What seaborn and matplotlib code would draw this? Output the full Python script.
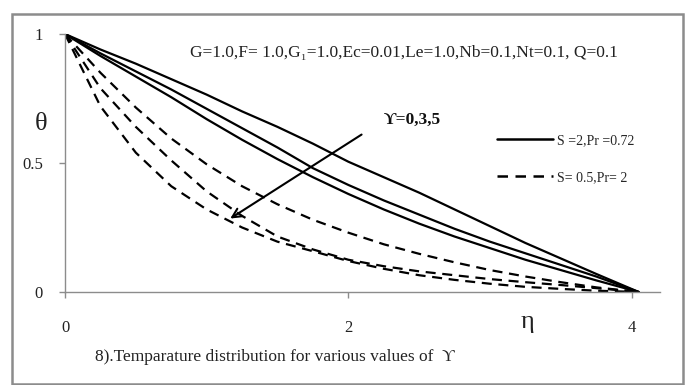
import matplotlib
matplotlib.use("Agg")
import matplotlib.pyplot as plt
from matplotlib.lines import Line2D
from matplotlib.patches import Rectangle
import seaborn as sns
import pandas as pd

# similarity variable
eta = [0.0, 0.25, 0.5, 0.75, 1.0, 1.25, 1.5, 1.75, 2.0, 2.25, 2.5, 2.75, 3.0, 3.25, 3.5, 3.75, 4.05]

# S=2, Pr=0.72 for Upsilon = 0, 3, 5
theta_s2_u0 = [1.0, 0.94, 0.885, 0.825, 0.765, 0.70, 0.64, 0.575, 0.505, 0.445, 0.385, 0.32, 0.255, 0.19, 0.13, 0.07, 0.0]
theta_s2_u3 = [1.0, 0.925, 0.855, 0.785, 0.71, 0.635, 0.56, 0.48, 0.415, 0.355, 0.30, 0.245, 0.195, 0.15, 0.105, 0.06, 0.0]
theta_s2_u5 = [1.0, 0.915, 0.835, 0.755, 0.67, 0.59, 0.515, 0.445, 0.38, 0.32, 0.265, 0.215, 0.17, 0.125, 0.085, 0.045, 0.0]

# S=0.5, Pr=2 for Upsilon = 0, 3, 5
theta_s05_u0 = [1.0, 0.85, 0.715, 0.595, 0.495, 0.41, 0.34, 0.28, 0.23, 0.185, 0.148, 0.115, 0.085, 0.06, 0.038, 0.018, 0.0]
theta_s05_u3 = [1.0, 0.79, 0.64, 0.51, 0.39, 0.295, 0.215, 0.165, 0.125, 0.10, 0.08, 0.065, 0.05, 0.038, 0.027, 0.015, 0.0]
theta_s05_u5 = [1.0, 0.72, 0.54, 0.41, 0.32, 0.25, 0.195, 0.158, 0.12, 0.09, 0.065, 0.047, 0.032, 0.02, 0.012, 0.005, 0.0]

upsilon = [0, 3, 5]
group_labels = ["S =2,Pr =0.72", "S= 0.5,Pr= 2"]

series = {
    (group_labels[0], 0): theta_s2_u0,
    (group_labels[0], 3): theta_s2_u3,
    (group_labels[0], 5): theta_s2_u5,
    (group_labels[1], 0): theta_s05_u0,
    (group_labels[1], 3): theta_s05_u3,
    (group_labels[1], 5): theta_s05_u5,
}

rows = []
for (grp, u), vals in series.items():
    for x, y in zip(eta, vals):
        rows.append({"eta": x, "theta": y, "group": grp, "curve": f"{grp}|{u}"})
df = pd.DataFrame(rows)

sns.set_theme(style="white")
plt.rcParams["font.family"] = ["Liberation Serif", "DejaVu Serif"]

fig = plt.figure(figsize=(6.89, 3.85), dpi=100)
ax = fig.add_axes([65 / 689, 1 - 292 / 385, (660 - 65) / 689, (292 - 34) / 385])

dash_map = {group_labels[0]: "", group_labels[1]: (4.5, 3)}
sns.lineplot(data=df, x="eta", y="theta", units="curve", style="group",
             dashes=dash_map, estimator=None, color="black", linewidth=1.6,
             legend=False, ax=ax, sort=False)

ax.set_xlim(0, 4.2)
ax.set_ylim(0, 1)
ax.set_xticks([0, 2, 4])
ax.set_yticks([0, 0.5, 1])
ax.set_xticklabels(["0", "2", "4"])
ax.set_yticklabels(["0", "0.5", "1"])
ax.set_xlabel("")
ax.set_ylabel("")
for side in ("top", "right"):
    ax.spines[side].set_visible(False)
for side in ("left", "bottom"):
    ax.spines[side].set_color("#8c8c8c")
    ax.spines[side].set_linewidth(1.0)
ax.tick_params(axis="both", direction="out", length=4, width=1.0, color="#8c8c8c",
               labelsize=12, labelcolor="#222222")
ax.tick_params(axis="x", pad=16, bottom=True)
ax.tick_params(axis="y", pad=12, left=True)
ax.set_facecolor("white")

# arrow showing increasing Upsilon
ax.annotate("", xy=(1.15, 0.279), xytext=(2.11, 0.616),
            arrowprops=dict(arrowstyle="->", lw=1.5, color="black", mutation_scale=16))

handles = [Line2D([], [], color="black", lw=1.8),
           Line2D([], [], color="black", lw=1.8, dashes=(4.2, 3))]
fig.legend(handles, group_labels, loc="upper left", bbox_to_anchor=(497 / 689, 1 - 134 / 385),
           frameon=False, fontsize=10, handlelength=4.0, handletextpad=0.3,
           labelspacing=1.75, borderpad=0, borderaxespad=0)

fig.text(190 / 689, 1 - 53 / 385,
         "G=1.0,F= 1.0,G\u2081=1.0,Ec=0.01,Le=1.0,Nb=0.1,Nt=0.1, Q=0.1",
         fontsize=12.5, va="center", ha="left", color="#222222")
fig.text(384 / 689, 1 - 120 / 385, "\u03d2=0,3,5", fontsize=12.5, va="center",
         ha="left", color="#111111", fontweight="bold")
fig.text(41 / 689, 1 - 124 / 385, "\u03b8", fontsize=19, va="center", ha="center", color="#222222")
fig.text(527 / 689, 1 - 322 / 385, "\u03b7", fontsize=19, va="center", ha="center", color="#222222")
fig.text(95 / 689, 1 - 357 / 385, "8).Temparature distribution for various values of  \u03d2",
         fontsize=12.5, va="center", ha="left", color="#222222")

# outer frame
fig.patches.append(Rectangle((12 / 689, 1 - 384 / 385), (683 - 12) / 689, (384 - 14) / 385,
                             transform=fig.transFigure, fill=False, edgecolor="#8c8c8c",
                             linewidth=1.8))

fig.savefig("out.png", dpi=100, facecolor="white")
